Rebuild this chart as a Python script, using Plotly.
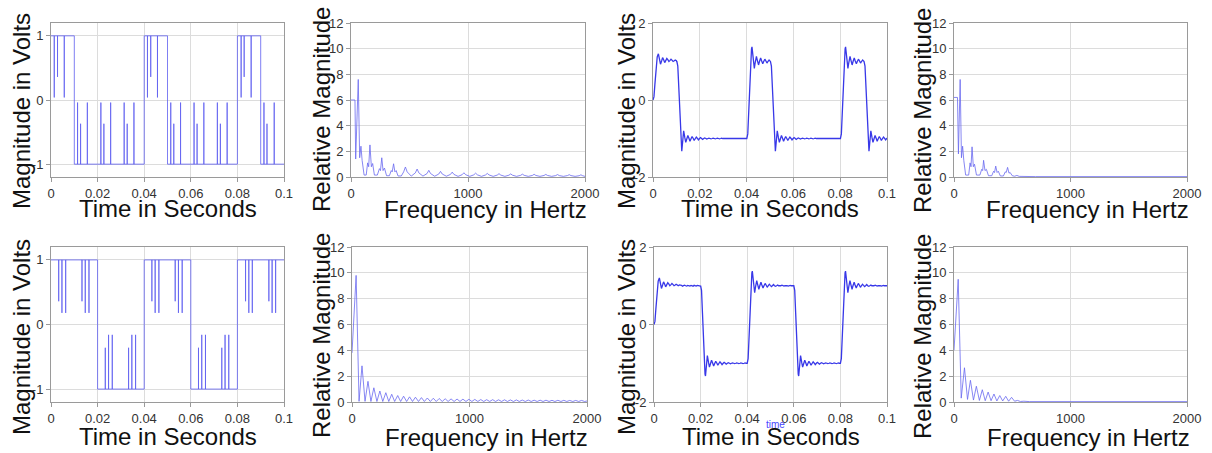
import plotly.graph_objects as go

# ---------------- data ----------------
time_ticks = [0, 0.02, 0.04, 0.06, 0.08, 0.1]
time_ticktext = ["0", "0.02", "0.04", "0.06", "0.08", "0.1"]
freq_ticks = [0, 1000, 2000]
freq_ticktext = ["0", "1000", "2000"]
mag_ticks = [0, 2, 4, 6, 8, 10, 12]
sq_ticks = [-1, 0, 1]
sq_ticktext = ["-1", "0", "1"]
filt_ticks = [-2, 0, 2]
filt_ticktext = ["-2", "0", "2"]

# 25% duty square wave with glitches (top-left)
sq25_segments = [(0, 0.01, 1), (0.01, 0.04, -1), (0.04, 0.05, 1),
                 (0.05, 0.08, -1), (0.08, 0.09, 1), (0.09, 0.1, -1)]
sq25_spikes = [(0.0014, 0.04), (0.0028, 0.36), (0.0057, 0.04),
               (0.0114, -0.04), (0.0127, -0.37), (0.0156, -0.04),
               (0.0214, -0.04), (0.0227, -0.37), (0.0256, -0.04),
               (0.0314, -0.04), (0.0327, -0.37), (0.0356, -0.04),
               (0.0414, 0.04), (0.0428, 0.36), (0.0457, 0.04),
               (0.0514, -0.04), (0.0527, -0.37), (0.0556, -0.04),
               (0.0614, -0.04), (0.0627, -0.37), (0.0656, -0.04),
               (0.0714, -0.04), (0.0727, -0.37), (0.0756, -0.04),
               (0.0816, 0.04), (0.0829, 0.36), (0.0859, 0.04),
               (0.0914, -0.04), (0.0927, -0.37), (0.0958, -0.04)]

# 50% duty square wave with glitches (bottom-left)
sq50_segments = [(0, 0.02, 1), (0.02, 0.04, -1), (0.04, 0.06, 1),
                 (0.06, 0.08, -1), (0.08, 0.1, 1)]
sq50_spikes = [(0.0033, 0.36), (0.0047, 0.18), (0.0063, 0.18),
               (0.0133, 0.36), (0.0147, 0.18), (0.0163, 0.18),
               (0.0233, -0.36), (0.0247, -0.16), (0.0263, -0.16),
               (0.0333, -0.36), (0.0347, -0.16), (0.0363, -0.16),
               (0.0433, 0.36), (0.0447, 0.18), (0.0463, 0.18),
               (0.0533, 0.36), (0.0547, 0.18), (0.0563, 0.18),
               (0.0633, -0.36), (0.0647, -0.16), (0.0663, -0.16),
               (0.0733, -0.36), (0.0747, -0.16), (0.0763, -0.16),
               (0.0835, 0.36), (0.0849, 0.18), (0.0864, 0.18),
               (0.0935, 0.36), (0.0949, 0.18), (0.0964, 0.18)]

# filtered waveforms: edge shapes (time after edge, volts)
edge_from_zero = [(0.0, 0.0), (0.0004, 0.08), (0.0008, 0.4), (0.0013, 0.85), (0.0018, 1.12),
                  (0.0023, 1.2), (0.0028, 1.04), (0.0032, 0.93), (0.0037, 1.02), (0.0041, 1.1),
                  (0.0046, 1.04), (0.0050, 0.97), (0.0055, 1.03), (0.0059, 1.08), (0.0064, 1.04),
                  (0.0068, 1.0), (0.0073, 1.03), (0.0077, 1.06), (0.0082, 1.03), (0.0086, 1.0),
                  (0.0091, 1.02), (0.0095, 1.04), (0.0100, 1.02), (0.0104, 1.0), (0.0109, 1.02),
                  (0.0113, 1.02), (0.0118, 1.01), (0.0122, 0.99), (0.0127, 1.01), (0.0131, 1.015),
                  (0.0136, 1.0), (0.0140, 0.99), (0.0145, 1.01), (0.0150, 1.0), (0.0154, 0.99),
                  (0.0159, 1.01), (0.0163, 1.0), (0.0168, 0.99), (0.0172, 1.01), (0.0177, 1.0),
                  (0.0181, 0.99), (0.0186, 1.01), (0.0190, 1.0), (0.0195, 0.99)]
edge_rise = [(0.0, -1.0), (0.0004, -0.88), (0.0008, -0.3), (0.0012, 0.45), (0.0016, 1.05),
             (0.0020, 1.33), (0.0022, 1.38), (0.0027, 1.05), (0.0032, 0.82), (0.0036, 0.98),
             (0.0041, 1.13), (0.0045, 1.03), (0.0050, 0.91), (0.0054, 1.0), (0.0059, 1.09),
             (0.0063, 1.02), (0.0068, 0.94), (0.0072, 1.0), (0.0077, 1.06), (0.0081, 1.02),
             (0.0086, 0.96), (0.0090, 1.0), (0.0095, 1.04), (0.0099, 1.01), (0.0104, 0.98),
             (0.0108, 1.0), (0.0113, 1.03), (0.0117, 1.0), (0.0122, 0.985), (0.0126, 1.0),
             (0.0131, 1.02), (0.0135, 1.0), (0.0140, 0.99), (0.0144, 1.0), (0.0149, 1.015),
             (0.0153, 1.0), (0.0158, 0.99), (0.0162, 1.0), (0.0167, 1.01), (0.0171, 1.0),
             (0.0176, 0.99), (0.0180, 1.0), (0.0185, 1.01), (0.0189, 1.0), (0.0194, 0.99),
             (0.0198, 1.0)]
edge_fall = [(0.0, 1.0), (0.0004, 0.88), (0.0008, 0.3), (0.0012, -0.45), (0.0016, -1.05),
             (0.0019, -1.28), (0.0021, -1.33), (0.0026, -1.0), (0.0029, -0.8), (0.0034, -0.98),
             (0.0038, -1.1), (0.0043, -1.0), (0.0047, -0.92), (0.0052, -1.0), (0.0056, -1.07),
             (0.0061, -1.0), (0.0065, -0.95), (0.0070, -1.0), (0.0074, -1.05), (0.0079, -1.0),
             (0.0083, -0.965), (0.0088, -1.0), (0.0092, -1.035), (0.0097, -1.0), (0.0101, -0.975),
             (0.0106, -1.0), (0.0110, -1.025), (0.0115, -1.0), (0.0119, -0.985), (0.0124, -1.0),
             (0.0128, -1.015), (0.0133, -1.0), (0.0137, -0.99), (0.0142, -1.0), (0.0146, -1.01),
             (0.0151, -1.0), (0.0155, -0.99), (0.0160, -1.0), (0.0164, -1.01), (0.0169, -1.0),
             (0.0173, -0.99), (0.0178, -1.0), (0.0182, -1.01), (0.0187, -1.0), (0.0191, -0.99),
             (0.0196, -1.0)]
filt25_edges = [(0.0, "zero"), (0.0102, "fall"), (0.0401, "rise"),
                (0.0502, "fall"), (0.0801, "rise"), (0.0902, "fall")]
filt50_edges = [(0.0, "zero"), (0.0200, "fall"), (0.0400, "rise"),
                (0.0600, "fall"), (0.0800, "rise")]

# spectra (Hz, relative magnitude)
spec_sq25 = [(0, 6.0), (34, 6.0), (40, 1.4), (62, 7.6), (74, 1.5), (85, 2.4), (95, 1.3),
             (112, 0.15), (130, 0.15), (142, 1.1), (151, 0.8), (162, 2.5), (174, 0.8),
             (185, 1.05), (200, 0.15), (225, 0.15), (243, 0.65), (252, 0.5), (263, 1.5),
             (274, 0.5), (286, 0.7), (304, 0.1), (328, 0.1), (344, 0.5), (352, 0.4),
             (364, 1.03), (375, 0.4), (386, 0.5), (402, 0.08),
             (430, 0.08), (450, 0.4), (465, 0.78), (480, 0.4),
             (515, 0.07), (550, 0.32), (565, 0.62), (580, 0.32),
             (615, 0.07), (650, 0.27), (665, 0.52), (680, 0.27),
             (715, 0.06), (750, 0.23), (765, 0.44), (780, 0.23),
             (815, 0.06), (850, 0.2), (865, 0.38), (880, 0.2),
             (915, 0.05), (950, 0.18), (965, 0.33), (980, 0.18),
             (1015, 0.05), (1050, 0.17), (1065, 0.3), (1080, 0.17),
             (1115, 0.05), (1150, 0.16), (1165, 0.28), (1180, 0.16),
             (1215, 0.05), (1250, 0.15), (1265, 0.26), (1280, 0.15),
             (1315, 0.05), (1350, 0.14), (1365, 0.24), (1380, 0.14),
             (1415, 0.05), (1450, 0.13), (1465, 0.22), (1480, 0.13),
             (1515, 0.05), (1550, 0.12), (1565, 0.21), (1580, 0.12),
             (1615, 0.05), (1650, 0.12), (1665, 0.2), (1680, 0.12),
             (1715, 0.05), (1750, 0.11), (1765, 0.19), (1780, 0.11),
             (1815, 0.05), (1850, 0.11), (1865, 0.18), (1880, 0.11),
             (1915, 0.05), (1950, 0.1), (1965, 0.17), (1980, 0.1), (2000, 0.05)]
spec_filt25 = [(0, 6.2), (30, 6.2), (38, 1.8), (53, 7.6), (64, 1.5), (74, 2.4), (84, 1.3),
               (100, 0.15), (126, 0.15), (138, 1.1), (146, 0.8), (155, 2.35), (166, 0.8),
               (176, 1.0), (193, 0.15), (222, 0.15), (238, 0.6), (246, 0.5), (254, 1.3),
               (266, 0.5), (278, 0.6), (296, 0.1), (324, 0.1), (340, 0.45), (348, 0.35),
               (358, 0.85), (370, 0.35), (380, 0.45), (398, 0.08), (424, 0.08), (440, 0.4),
               (448, 0.35), (460, 0.75), (472, 0.3), (482, 0.35), (500, 0.1), (520, 0.06),
               (540, 0.12), (560, 0.05), (700, 0.03), (2000, 0.03)]
spec_sq50 = [(0, 3.8), (35, 9.8), (60, 0.05), (85, 2.8), (111, 0.05), (136, 1.6), (161, 0.04),
             (186, 1.1), (212, 0.04), (237, 0.85), (262, 0.04), (288, 0.72), (313, 0.04),
             (338, 0.6), (363, 0.04), (389, 0.5), (414, 0.04), (439, 0.45), (465, 0.04),
             (490, 0.4), (515, 0.04), (540, 0.37), (566, 0.04), (591, 0.34), (616, 0.04),
             (641, 0.31), (667, 0.04), (692, 0.29), (717, 0.04), (742, 0.27), (768, 0.04),
             (793, 0.25), (818, 0.04), (843, 0.24), (869, 0.04), (894, 0.23), (919, 0.04),
             (944, 0.22), (970, 0.04), (995, 0.21), (1020, 0.04), (1045, 0.2), (1071, 0.04),
             (1096, 0.19), (1121, 0.04), (1146, 0.18), (1172, 0.04), (1197, 0.18), (1222, 0.04),
             (1247, 0.17), (1273, 0.04), (1298, 0.17), (1323, 0.04), (1348, 0.16), (1374, 0.04),
             (1399, 0.16), (1424, 0.04), (1449, 0.15), (1475, 0.04), (1500, 0.15), (1525, 0.04),
             (1550, 0.14), (1576, 0.04), (1601, 0.14), (1626, 0.04), (1651, 0.14), (1677, 0.04),
             (1702, 0.13), (1727, 0.04), (1752, 0.13), (1778, 0.04), (1803, 0.13), (1828, 0.04),
             (1853, 0.12), (1879, 0.04), (1904, 0.12), (1929, 0.04), (1954, 0.12), (1980, 0.04),
             (2000, 0.08)]
spec_filt50 = [(0, 4.0), (36, 9.5), (62, 0.3), (90, 2.65), (116, 0.2), (141, 1.68), (167, 0.15),
               (192, 1.22), (218, 0.12), (243, 0.95), (268, 0.1), (293, 0.77), (318, 0.1),
               (343, 0.62), (368, 0.08), (393, 0.5), (418, 0.08), (444, 0.44), (469, 0.06),
               (494, 0.36), (520, 0.06), (545, 0.12), (570, 0.04), (600, 0.06), (650, 0.03),
               (2000, 0.03)]

# ---------------- helpers ----------------
W, H = 1212, 453


def step_path(segments, spikes):
    xs, ys = [], []
    for t0, t1, lev in segments:
        xs.append(t0); ys.append(lev)
        for ts, sv in spikes:
            if t0 < ts < t1:
                xs += [ts, ts, ts]; ys += [lev, sv, lev]
        xs.append(t1); ys.append(lev)
    return xs, ys


def filtered_path(edges, t_end):
    shapes = {"zero": edge_from_zero, "rise": edge_rise, "fall": edge_fall}
    xs, ys = [], []
    for i, (te, kind) in enumerate(edges):
        nxt = edges[i + 1][0] if i + 1 < len(edges) else t_end
        shp = shapes[kind]
        for dt, v in shp:
            if te + dt < nxt:
                xs.append(te + dt); ys.append(v)
        xs.append(nxt); ys.append(shp[-1][1])
    return xs, ys


def unzip(pairs):
    return [p[0] for p in pairs], [p[1] for p in pairs]


cols_top = [(51, 284), (351, 585), (653, 887), (954, 1187)]
cols_bot = [(51, 284), (352, 587), (654, 887), (954, 1187)]
row_top = (23, 177)
row_bot = (247, 402)

FONT = "Liberation Sans, Arial, sans-serif"
SQ_COLOR = "rgba(95,95,240,0.8)"
SPEC_COLOR = "rgba(105,105,240,0.8)"
FILT_COLOR = "#3838e8"

fig = go.Figure()

panels = []
x, y = step_path(sq25_segments, sq25_spikes)
panels.append((x, y, SQ_COLOR, 1, "time", "sq"))
x, y = unzip(spec_sq25)
panels.append((x, y, SPEC_COLOR, 1, "freq", "mag"))
x, y = filtered_path(filt25_edges, 0.1)
panels.append((x, y, FILT_COLOR, 1.3, "time", "filt"))
x, y = unzip(spec_filt25)
panels.append((x, y, SPEC_COLOR, 1, "freq", "mag"))
x, y = step_path(sq50_segments, sq50_spikes)
panels.append((x, y, SQ_COLOR, 1, "time", "sq"))
x, y = unzip(spec_sq50)
panels.append((x, y, SPEC_COLOR, 1, "freq", "mag"))
x, y = filtered_path(filt50_edges, 0.1)
panels.append((x, y, FILT_COLOR, 1.3, "time", "filt"))
x, y = unzip(spec_filt50)
panels.append((x, y, SPEC_COLOR, 1, "freq", "mag"))

axis_common = dict(showgrid=True, gridcolor="#dcdcdc", gridwidth=1, zeroline=False,
                   showline=True, linecolor="#9a9a9a", linewidth=1, mirror=True,
                   ticks="outside", ticklen=4, tickcolor="#9a9a9a",
                   tickfont=dict(family=FONT, size=13, color="#333333"),
                   automargin=False, fixedrange=True)

layout = dict(width=W, height=H, margin=dict(l=0, r=0, t=0, b=0, autoexpand=False),
              paper_bgcolor="white", plot_bgcolor="white", showlegend=False)

for i, (xs, ys, color, lw, xkind, ykind) in enumerate(panels):
    n = i + 1
    cols = cols_top if i < 4 else cols_bot
    row = row_top if i < 4 else row_bot
    c0, c1 = cols[i % 4]
    xa = dict(axis_common, domain=[c0 / W, c1 / W], anchor="y%d" % n)
    ya = dict(axis_common, domain=[1 - row[1] / H, 1 - row[0] / H], anchor="x%d" % n)
    if xkind == "time":
        xa.update(range=[0, 0.1], tickmode="array", tickvals=time_ticks, ticktext=time_ticktext)
    else:
        xa.update(range=[0, 2000], tickmode="array", tickvals=freq_ticks, ticktext=freq_ticktext)
    if ykind == "sq":
        ya.update(range=[-1.2, 1.2], tickmode="array", tickvals=sq_ticks, ticktext=sq_ticktext)
    elif ykind == "filt":
        ya.update(range=[-2, 2], tickmode="array", tickvals=filt_ticks, ticktext=filt_ticktext)
    else:
        ya.update(range=[0, 12], tickmode="array", tickvals=mag_ticks)
    layout["xaxis" if n == 1 else "xaxis%d" % n] = xa
    layout["yaxis" if n == 1 else "yaxis%d" % n] = ya
    fig.add_trace(go.Scatter(x=xs, y=ys, mode="lines",
                             line=dict(color=color, width=lw),
                             xaxis="x%d" % n, yaxis="y%d" % n,
                             hoverinfo="skip"))

annotations = []
# stray small blue label in the bottom filtered panel
annotations.append(dict(text="time", x=775 / W, y=1 - 424 / H, xref="paper", yref="paper",
                        showarrow=False, xanchor="center", yanchor="middle",
                        font=dict(family=FONT, size=10, color="#4646ff")))

ytitle_pos = [(21, 111, "Magnitude in Volts"), (321, 110, "Relative Magnitude"),
              (626, 111, "Magnitude in Volts"), (922, 111, "Relative Magnitude"),
              (21, 337, "Magnitude in Volts"), (321, 336, "Relative Magnitude"),
              (626, 337, "Magnitude in Volts"), (922, 337, "Relative Magnitude")]
xtitle_pos = [(168, 208, "Time in Seconds"), (485, 209, "Frequency in Hertz"),
              (770, 208, "Time in Seconds"), (1087, 209, "Frequency in Hertz"),
              (168, 436, "Time in Seconds"), (486, 437, "Frequency in Hertz"),
              (771, 436, "Time in Seconds"), (1088, 437, "Frequency in Hertz")]
for px, py, txt in ytitle_pos:
    annotations.append(dict(text=txt, x=px / W, y=1 - py / H, xref="paper", yref="paper",
                            showarrow=False, textangle=-90, xanchor="center", yanchor="middle",
                            font=dict(family=FONT, size=24, color="#111111")))
for px, py, txt in xtitle_pos:
    annotations.append(dict(text=txt, x=px / W, y=1 - py / H, xref="paper", yref="paper",
                            showarrow=False, xanchor="center", yanchor="middle",
                            font=dict(family=FONT, size=24, color="#111111")))
layout["annotations"] = annotations

fig.update_layout(**layout)
fig.write_html("out.html", config={"displayModeBar": False},
               post_script="document.body.style.margin='0px';"
                           "document.documentElement.style.overflow='hidden';")
